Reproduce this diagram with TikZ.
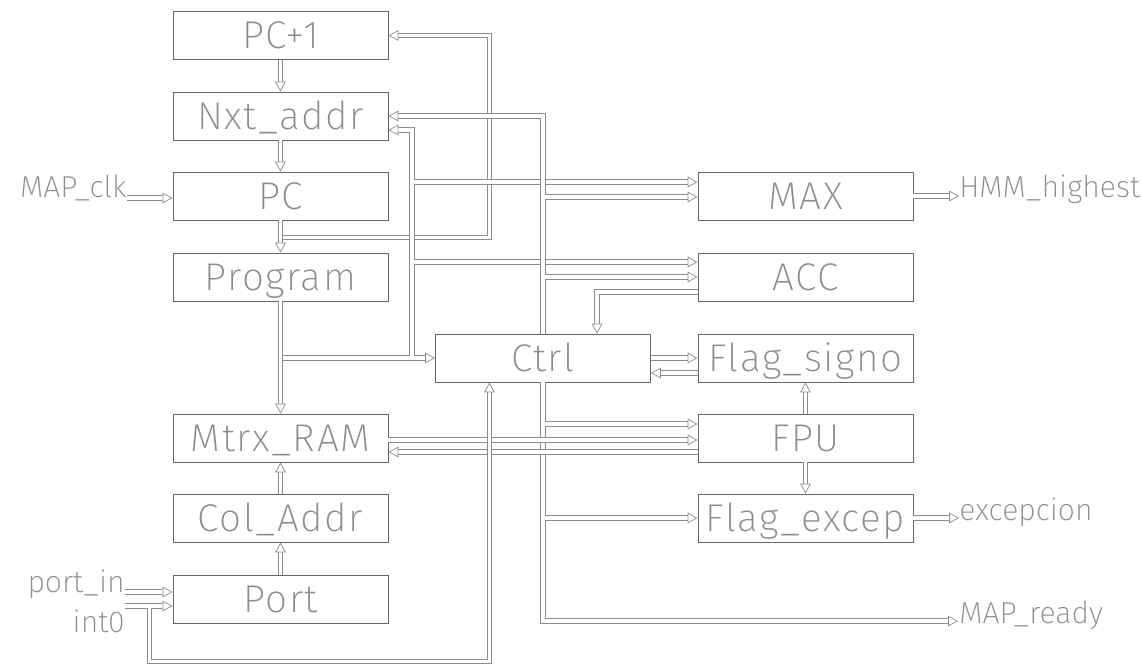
\documentclass[tikz,border=0pt]{standalone}
\usepackage{fontspec}
\setmainfont{Fira Sans ExtraLight}
\usetikzlibrary{arrows.meta,calc,positioning}

\tikzset{
  blk/.style={draw=black!60, line width=0.6pt, minimum width=5.375cm, minimum height=1.2cm,
    text=black!45, font=\fontsize{27.5}{30}\selectfont\addfontfeatures{LetterSpace=4}, text height=19pt, text depth=0pt, inner sep=0pt},
  lbl/.style={text=black!45, font=\fontsize{21.5}{26}\selectfont, inner sep=0pt},
  bus/.style={draw=black!45, line width=0.5pt, double=white, double distance=2.6pt},
}

\begin{document}
\begin{tikzpicture}[x=0.025cm,y=-0.025cm,>={Triangle[open,length=7pt,width=7.5pt,line width=0.5pt]}]
\useasboundingbox (0,0) rectangle (1142,669);
% left column
\node[blk] (pc1) at (280.5,35.5) {PC+1};
\node[blk] (nxt) at (280.5,116) {Nxt\_addr};
\node[blk] (pc) at (280.5,196) {PC};
\node[blk] (prog) at (280.5,277) {Program};
\node[blk] (mram) at (280.5,438) {Mtrx\_RAM};
\node[blk] (cola) at (280.5,518) {Col\_Addr};
\node[blk] (port) at (280.5,599) {Port};
% control and right column
\node[blk] (ctrl) at (543,358) {Ctrl};
\node[blk] (max) at (805.5,196) {MAX};
\node[blk] (acc) at (805.5,277) {ACC};
\node[blk] (fsig) at (805.5,358) {Flag\_signo};
\node[blk] (fpu) at (805.5,438) {FPU};
\node[blk] (fexc) at (805.5,518) {Flag\_excep};
% ports
\node[lbl,anchor=base east] (clk) at (127,198) {MAP\_clk};
\node[lbl,anchor=base east] (pin) at (125,592) {port\_in};
\node[lbl,anchor=north east] (int) at (125,610) {int0};
\node[lbl,anchor=base west] (hmm) at (959,198) {HMM\_highest};
\node[lbl,anchor=base west] (exc) at (959,520) {excepcion};
\node[lbl,anchor=base west] (rdy) at (959,623) {MAP\_ready};
\coordinate (busB) at (489.5,0);
\coordinate (busC) at (412,0);
\coordinate (pcj) at (282.5,237.5);
\coordinate (intj) at (149.5,608);
\coordinate (loop) at (489.5,661.5);

% address path
\draw[bus,->] (pc1) -- (nxt);
\draw[bus,->] (nxt) -- (pc);
\draw[bus,->] (pc) -- (prog);
\draw[bus,->] (prog) -- (mram);
\draw[bus,->] (port) -- (cola);
\draw[bus,->] (cola) -- (mram);
\draw[bus,->] (pcj) -| (busB |- pc1.east) -- (pc1.east);

% program bus
\draw[bus,->] ($(prog.south |- ctrl.west)+(2,0)$) -- (ctrl.west);
\draw[bus,->] ($(busC |- ctrl.west)+(0,-2)$) |- ($(nxt.east)+(0,14)$);
\draw[bus,->] ($(busC |- max.west)+(2,-14)$) -- ($(max.west)+(0,-14)$);
\draw[bus,->] ($(busC |- acc.west)+(2,-15)$) -- ($(acc.west)+(0,-15)$);

% control bus
\draw[bus,->] (ctrl.north) |- (nxt.east);
\draw[bus,->] ($(ctrl.north |- max.west)+(2,1)$) -- ($(max.west)+(0,1)$);
\draw[bus,->] ($(ctrl.north |- acc.west)+(2,0)$) -- (acc.west);
\draw[bus,->] (ctrl.south) |- ($(rdy.base west)+(-1,-2)$);
\draw[bus,->] ($(ctrl.south |- fpu.west)+(2,-14)$) -- ($(fpu.west)+(0,-14)$);
\draw[bus,->] ($(ctrl.south |- fexc.west)+(2,0)$) -- (fexc.west);

% data
\draw[bus,->] ($(mram.east)+(0,2)$) -- ($(fpu.west)+(0,2)$);
\draw[bus,<-] ($(mram.east)+(0,14)$) -- ($(fpu.west)+(0,14)$);
\draw[bus,->] (ctrl.east) -- (fsig.west);
\draw[bus,<-] ($(ctrl.east)+(0,15)$) -- ($(fsig.west)+(0,15)$);
\draw[bus,->] ($(acc.west)+(0,15)$) -| ($(ctrl.north)+(54,0)$);
\draw[bus,->] (fpu) -- (fsig);
\draw[bus,->] (fpu) -- (fexc);

% inputs and outputs
\draw[bus,->] (clk.base east) -- (clk.base east -| pc.west);
\draw[bus,->] (pin.base east) -- (pin.base east -| port.west);
\draw[bus,->] ($(int.north east)+(0,-4)$) -- ($(int.north east -| port.west)+(0,-4)$);
\draw[bus,->] (intj) |- (loop) -- (loop |- ctrl.south);
\draw[bus,->] (max.east) -- (max.east -| hmm.west);
\draw[bus,->] (fexc.east) -- (fexc.east -| exc.west);
\end{tikzpicture}
\end{document}
